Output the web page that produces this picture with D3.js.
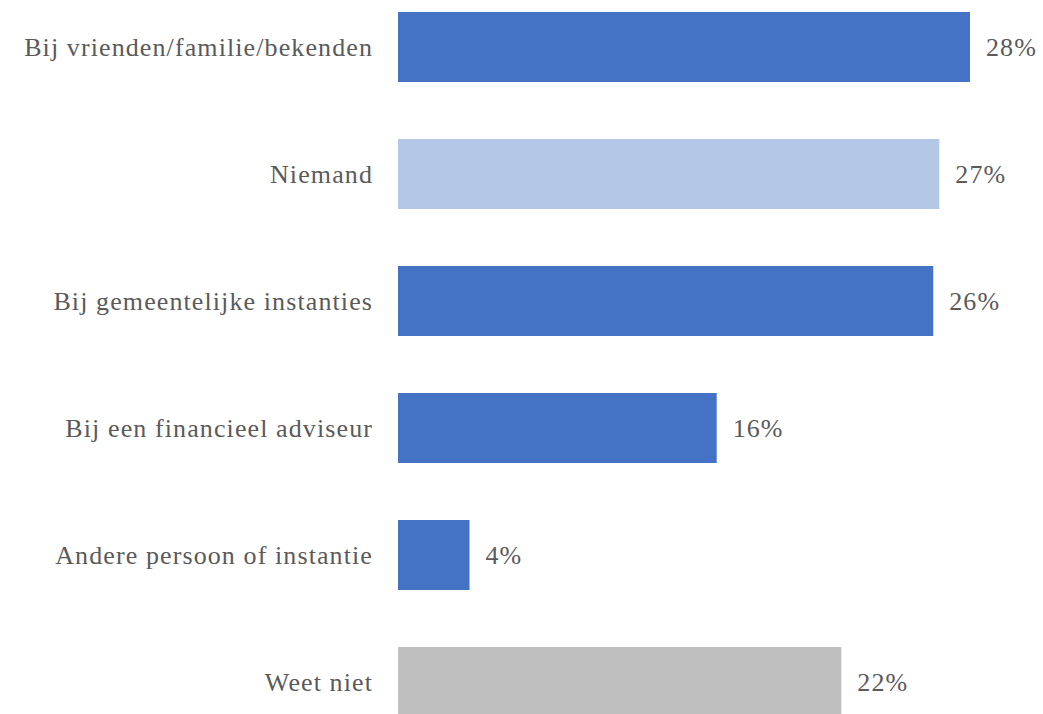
<!DOCTYPE html>
<html><head><meta charset="utf-8">
<script src="https://cdn.jsdelivr.net/npm/d3@7"></script>
<style>html,body{margin:0;padding:0;background:#fff;}</style>
</head><body>
<svg id="chart" width="1043" height="714"></svg>
<script>
const categories = ["Bij vrienden/familie/bekenden","Niemand","Bij gemeentelijke instanties","Bij een financieel adviseur","Andere persoon of instantie","Weet niet"];
const values = [28.0, 26.5, 26.2, 15.6, 3.5, 21.7];
const valueLabels = ["28%","27%","26%","16%","4%","22%"];
const colors = ["#4472C4","#B4C7E7","#4472C4","#4472C4","#4472C4","#BFBFBF"];

const svg = d3.select("#chart");
const x0 = 398;
const x = d3.scaleLinear().domain([0, 28]).range([x0, 970]);
const y = d3.scaleBand().domain(categories).range([12, 717]).paddingInner(57/127).paddingOuter(0);

const font = "'Liberation Serif','DejaVu Serif',serif";
const data = categories.map((c,i)=>({c, v:values[i], l:valueLabels[i], col:colors[i]}));

svg.selectAll("rect.bar").data(data).enter().append("rect")
  .attr("class","bar")
  .attr("x", x(0)).attr("y", d=>y(d.c))
  .attr("width", d=>x(d.v)-x(0)).attr("height", y.bandwidth())
  .attr("fill", d=>d.col);

svg.selectAll("text.cat").data(data).enter().append("text")
  .attr("class","cat")
  .attr("x", x0-25).attr("y", d=>y(d.c)+y.bandwidth()/2)
  .attr("dy","0.33em").attr("text-anchor","end")
  .attr("font-family", font).attr("font-size", 26).attr("letter-spacing", 1.1)
  .attr("fill","#5a5a5a")
  .text(d=>d.c);

svg.selectAll("text.val").data(data).enter().append("text")
  .attr("class","val")
  .attr("x", d=>x(d.v)+16).attr("y", d=>y(d.c)+y.bandwidth()/2)
  .attr("dy","0.33em").attr("text-anchor","start")
  .attr("font-family", font).attr("font-size", 26).attr("letter-spacing", 1.1)
  .attr("fill","#5a5a5a")
  .text(d=>d.l);
</script>
</body></html>
